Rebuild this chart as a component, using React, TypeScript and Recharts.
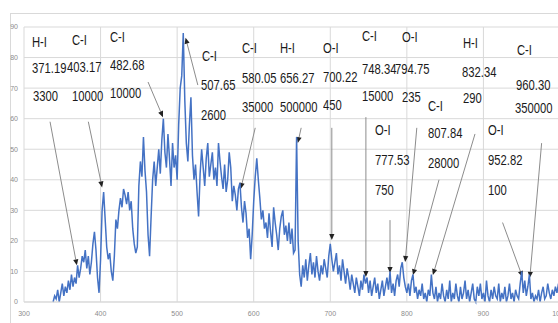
import React from 'react'
import { LineChart, Line, XAxis, YAxis, CartesianGrid, ReferenceLine } from 'recharts'

// spectrum samples, one every 2 nm starting at 338 nm
const START_NM = 338
const STEP_NM = 2
const intensity = [
  0, 2, 1, 4, 0, 3, 6, 2, 5, 3,
  7, 4, 9, 5, 8, 6, 12, 8, 11, 15,
  13, 17, 11, 15, 9, 13, 19, 23, 17, 8,
  3, 14, 30, 36, 27, 18, 14, 16, 10, 7,
  15, 27, 24, 30, 34, 31, 37, 35, 32, 36,
  30, 33, 24, 19, 16, 18, 38, 46, 41, 54,
  43, 36, 22, 15, 28, 40, 46, 38, 44, 50,
  42, 53, 60, 49, 44, 55, 47, 38, 52, 44,
  48, 40, 58, 70, 74, 88, 66, 52, 46, 58,
  67, 48, 40, 45, 36, 28, 42, 50, 44, 38,
  47, 52, 41, 45, 49, 40, 44, 38, 52, 46,
  41, 37, 45, 36, 40, 49, 44, 33, 38, 35,
  30, 37, 39, 31, 26, 33, 29, 21, 24, 14,
  22, 33, 41, 47, 40, 34, 27, 30, 24, 26,
  21, 29, 23, 18, 31, 26, 22, 17, 24, 28,
  30, 22, 25, 20, 26, 19, 24, 16, 17, 54,
  20, 9, 5, 12, 8, 14, 7, 12, 16, 9,
  13, 8, 15, 10, 7, 12, 9, 14, 11, 8,
  15, 19, 14, 10, 13, 16, 9, 12, 7, 14,
  10, 6, 11, 8, 4, 9, 6, 3, 8, 5,
  2, 7, 4, 9, 6, 8, 3, 7, 2, 5,
  8, 3, 6, 1, 4, 7, 2, 5, 8, 4,
  10, 3, 6, 2, 7, 9, 5, 11, 13, 8,
  5, 3, 6, 2, 7, 9, 3, 5, 1, 4,
  2, 6, 1, 3, 0, 4, 2, 9, 3, 1,
  5, 0, 3, 1, 6, 2, 0, 4, 1, 7,
  0, 3, 1, 6, 2, 0, 5, 1, 3, 7,
  1, 4, 0, 3, 6, 1, 0, 5, 2, 6,
  1, 3, 0, 7, 2, 0, 4, 1, 5, 2,
  1, 6, 0, 3, 1, 5, 0, 2, 6, 1,
  3, 0, 4, 2, 1, 6, 10, 3, 7, 2,
  5, 9, 1, 3, 0, 2, 1, 4, 0, 3,
  5, 1, 2, 6, 3, 1, 4, 2, 5, 3,
  6, 2,
]

const xTicks = [300, 400, 500, 600, 700, 800, 900, 1000]
const yTicks = [0, 10, 20, 30, 40, 50, 60, 70, 80, 90]

// arrows: [tail nm, tail value, tip nm, tip value]
const arrows = [
  [334, 59, 369, 12],
  [384, 59, 402, 37.5],
  [462, 72, 481.5, 60.5],
  [527, 71, 511, 86.5],
  [602, 57, 583, 37],
  [662, 57, 657.5, 52],
  [702, 57, 702, 20.3],
  [746.5, 60.5, 746.5, 8.2],
  [778, 26.8, 778, 9.5],
  [813, 57, 797.8, 13.1],
  [842, 40, 808, 8.8],
  [889, 55, 834, 8.8],
  [925, 26, 951, 8.2],
  [976, 52, 960.6, 7.9],
]

// annotation texts
const labels = [
  ['H-I', 32, 42], ['371.19', 32, 68], ['3300', 33, 96],
  ['C-I', 72, 40], ['403.17', 67, 67], ['10000', 72, 96],
  ['C-I', 110, 37], ['482.68', 110, 65], ['10000', 110, 93],
  ['C-I', 202, 56], ['507.65', 201, 85], ['2600', 201, 115],
  ['C-I', 242, 48], ['580.05', 242, 78], ['35000', 242, 107],
  ['H-I', 280, 48], ['656.27', 280, 78], ['500000', 280, 107],
  ['O-I', 323, 48], ['700.22', 323, 77], ['450', 323, 105],
  ['C-I', 362, 36], ['748.34', 362, 69], ['15000', 362, 96],
  ['O-I', 402, 37], ['794.75', 395, 69], ['235', 402, 97],
  ['H-I', 463, 43], ['832.34', 462, 72], ['290', 463, 98],
  ['C-I', 428, 106], ['807.84', 428, 133], ['28000', 428, 163],
  ['O-I', 375, 130], ['777.53', 375, 160], ['750', 375, 190],
  ['O-I', 488, 130], ['952.82', 488, 160], ['100', 488, 190],
  ['C-I', 517, 50], ['960.30', 516, 85], ['350000', 515, 108],
]

const data = intensity.map((v, i) => ({ nm: START_NM + i * STEP_NM, v }))

const Arrow = (p: any) => {
  const { x1, y1, x2, y2 } = p
  const a = Math.atan2(y2 - y1, x2 - x1)
  const L = 6, W = 2.6
  const bx = x2 - L * Math.cos(a), by = y2 - L * Math.sin(a)
  const pts = [
    `${x2},${y2}`,
    `${bx + W * Math.sin(a)},${by - W * Math.cos(a)}`,
    `${bx - W * Math.sin(a)},${by + W * Math.cos(a)}`,
  ].join(' ')
  return (
    <g>
      <line x1={x1} y1={y1} x2={bx} y2={by} stroke="#8c8c8c" strokeWidth={1} />
      <polygon points={pts} fill="#222" />
    </g>
  )
}

const tickStyle = { fontSize: 7, fill: '#8c8c8c', fontFamily: 'Liberation Sans, Arial, sans-serif' }

export default function App() {
  return (
    <div style={{ position: 'fixed', left: 0, top: 0, width: 558, height: 323, overflow: 'hidden', background: '#fff' }}>
      <div style={{ position: 'absolute', left: 10, top: 13, width: 600, height: 400, border: '1px solid #d9d9d9' }} />
      <div style={{ position: 'absolute', left: 0, top: 0 }}>
        <LineChart width={580} height={330} data={data} margin={{ top: 27, right: 20, bottom: 0, left: 0 }}>
          <CartesianGrid stroke="#d9d9d9" strokeWidth={1} />
          <XAxis
            dataKey="nm"
            type="number"
            domain={[300, 1000]}
            ticks={xTicks}
            height={28}
            tickSize={0}
            tickMargin={9}
            axisLine={{ stroke: '#d9d9d9' }}
            tick={tickStyle}
          />
          <YAxis
            type="number"
            domain={[0, 90]}
            ticks={yTicks}
            width={24}
            tickSize={0}
            tickMargin={6}
            axisLine={false}
            tick={tickStyle}
          />
          {arrows.map((a, i) => (
            <ReferenceLine
              key={i}
              segment={[{ x: a[0], y: a[1] }, { x: a[2], y: a[3] }]}
              ifOverflow="visible"
              shape={(p: any) => <Arrow {...p} />}
            />
          ))}
          <Line
            type="linear"
            dataKey="v"
            stroke="#4472c4"
            strokeWidth={1.5}
            dot={false}
            isAnimationActive={false}
          />
        </LineChart>
      </div>
      {labels.map((l, i) => (
        <div
          key={i}
          style={{
            position: 'absolute',
            left: l[1] as number,
            top: (l[2] as number) - 9,
            fontFamily: '"Liberation Sans", Arial, sans-serif',
            fontSize: 15,
            lineHeight: '18px',
            color: '#1a1a1a',
            whiteSpace: 'nowrap',
            transform: 'scaleX(0.75)',
            transformOrigin: 'left center',
          }}
        >
          {l[0]}
        </div>
      ))}
    </div>
  )
}
